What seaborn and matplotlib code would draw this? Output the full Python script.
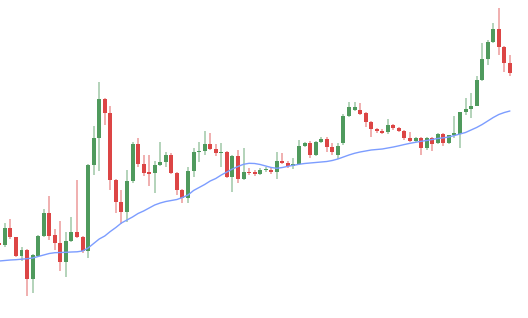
import numpy as np
import pandas as pd
import seaborn as sns
import matplotlib
matplotlib.use("Agg")
from matplotlib import pyplot as plt

# candle data (one entry per bar)
opens = [75, 73, 90, 81, 62, 68, 39, 62, 82, 105,
         83, 75, 56, 77, 86, 81, 67, 153, 180, 219,
         205, 138, 116, 106, 137, 174, 154, 146, 145, 153,
         156, 163, 145, 128, 120, 147, 166, 167, 174, 169,
         165, 166, 141, 162, 139, 146, 146, 144, 148, 148,
         146, 157, 155, 152, 154, 172, 175, 163, 176, 179,
         171, 163, 175, 202, 208, 208, 205, 196, 189, 187,
         186, 193, 190, 187, 180, 177, 180, 170, 180, 175,
         184, 175, 183, 184, 206, 209, 212, 238, 259, 276,
         289, 271, 255]
closes = [73, 90, 81, 62, 68, 39, 63, 82, 105, 82,
          75, 56, 77, 86, 81, 67, 153, 180, 219, 205,
          138, 116, 106, 137, 174, 154, 145, 144, 153, 156,
          163, 145, 128, 120, 147, 166, 167, 174, 169, 165,
          166, 141, 162, 139, 146, 145, 144, 148, 149, 146,
          157, 155, 152, 154, 172, 175, 163, 176, 179, 171,
          166, 172, 202, 211, 211, 204, 196, 189, 187, 185,
          193, 190, 187, 180, 177, 180, 170, 180, 174, 184,
          175, 183, 185, 206, 209, 212, 238, 259, 276, 289,
          271, 255, 245]
highs = [76, 95, 99, 81, 71, 69, 64, 83, 109, 122,
         89, 97, 86, 101, 138, 82, 154, 192, 236, 220,
         212, 139, 128, 148, 176, 180, 163, 163, 157, 176,
         166, 165, 146, 129, 151, 170, 176, 187, 185, 174,
         175, 167, 163, 168, 170, 150, 148, 150, 151, 150,
         166, 165, 157, 160, 178, 176, 177, 177, 181, 181,
         175, 175, 204, 216, 216, 215, 206, 197, 190, 189,
         199, 194, 191, 188, 186, 181, 181, 181, 181, 185,
         185, 183, 202, 206, 220, 225, 242, 275, 278, 295,
         310, 272, 263]
lows = [72, 71, 79, 61, 57, 22, 25, 61, 81, 78,
        68, 47, 41, 76, 80, 65, 60, 143, 147, 193,
        128, 105, 94, 96, 135, 151, 142, 132, 125, 152,
        151, 144, 123, 115, 115, 141, 156, 163, 168, 162,
        151, 140, 126, 135, 138, 143, 142, 143, 146, 144,
        139, 154, 150, 149, 153, 171, 160, 162, 175, 166,
        163, 159, 173, 201, 207, 203, 191, 181, 185, 184,
        184, 188, 186, 178, 176, 176, 163, 168, 167, 174,
        172, 174, 180, 170, 203, 200, 212, 237, 253, 275,
        263, 246, 242]
# moving average line
ma = [57, 57.5, 58, 58.3, 58.8, 59.3, 60, 61.5, 63, 64.5,
      65.3, 65.5, 65.7, 66, 66.2, 67, 70, 74.5, 79, 82,
      86.5, 90.5, 95, 98, 101, 104.5, 107, 110, 113, 115,
      116.5, 117.5, 118.5, 120.5, 123, 127.5, 130.5, 133.5, 137, 139.5,
      143, 146, 149, 151.5, 153.7, 154.7, 154.5, 153.5, 152, 150.5,
      149.7, 150.5, 151.7, 152.7, 153.7, 154.5, 155, 155.5, 156, 156.5,
      157.5, 159, 161, 163, 164.7, 166, 167, 168, 168.5, 169,
      170, 171, 172.2, 173.5, 174.7, 175.7, 176.7, 177.5, 178.5, 179.5,
      180.2, 181, 182.5, 184, 185.5, 188, 190.5, 193.5, 197, 200.5,
      203.5, 205.5, 207]

df = pd.DataFrame({'open': opens, 'high': highs, 'low': lows,
                   'close': closes, 'ma': ma})
df['idx'] = np.arange(len(df))
df['up'] = df['close'] >= df['open']

green = '#4f9a5d'
red = '#dc4545'

sns.set_theme(style="white")
fig = plt.figure(figsize=(5.28, 3.18), dpi=100)
ax = fig.add_axes([0, 0, 1, 1])

colours = np.where(df['up'], green, red)
# wicks
ax.vlines(df['idx'], df['low'], df['high'], colors=colours, alpha=0.5, linewidth=1.2)
# bodies
bottom = df[['open', 'close']].min(axis=1)
height = (df['close'] - df['open']).abs().clip(lower=1.2)
ax.bar(df['idx'], height, bottom=bottom, width=0.72, color=colours, linewidth=0)

sns.lineplot(data=df, x='idx', y='ma', ax=ax, color='#7c9dff', linewidth=1.0)

ax.set_xlim(0.126, 95.26)
ax.set_ylim(0, 318)
ax.set_axis_off()
plt.savefig('out.png', dpi=100)
